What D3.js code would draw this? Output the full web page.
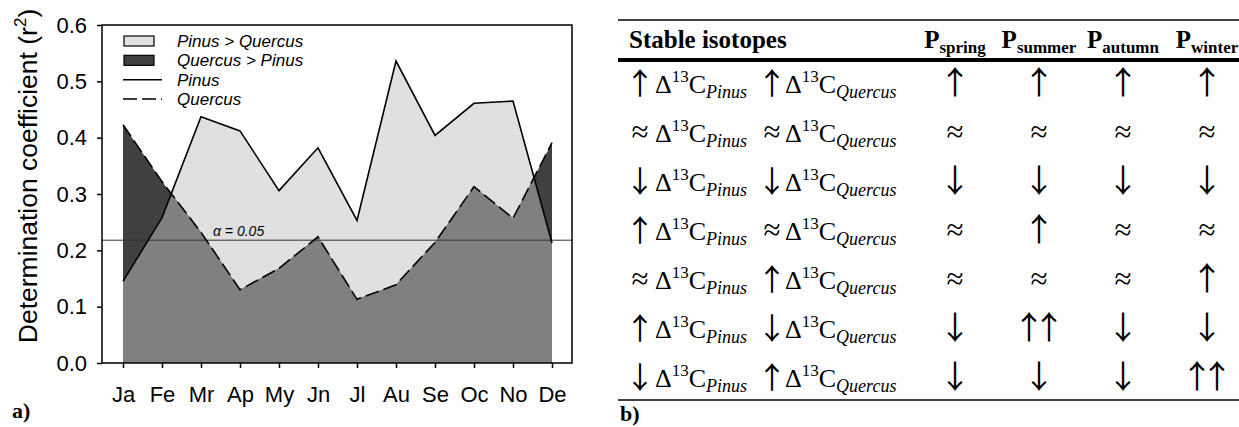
<!DOCTYPE html>
<html><head><meta charset="utf-8">
<script src="https://cdn.jsdelivr.net/npm/d3@7"></script>
<style>body{margin:0;background:#fff} svg{display:block}</style>
</head><body><svg id="c" width="1239" height="427"></svg>
<script>
// ---------- data ----------
const months = ["Ja","Fe","Mr","Ap","My","Jn","Jl","Au","Se","Oc","No","De"];
const pinus   = [0.145,0.258,0.437,0.412,0.306,0.382,0.253,0.536,0.404,0.461,0.465,0.213];
const quercus = [0.423,0.322,0.232,0.130,0.168,0.224,0.113,0.139,0.214,0.313,0.257,0.391];
const alphaLevel = 0.218;
const alphaLabel = "α = 0.05";
const yTicks = [0,0.1,0.2,0.3,0.4,0.5,0.6];
const legendLabels = ["Pinus > Quercus","Quercus > Pinus","Pinus","Quercus"];
const seasons = ["spring","summer","autumn","winter"];
const rowPinus   = ["↑","≈","↓","↑","≈","↑","↓"];
const rowQuercus = ["↑","≈","↓","≈","↑","↓","↑"];
const responses = [
  ["↑","↑","↑","↑"],
  ["≈","≈","≈","≈"],
  ["↓","↓","↓","↓"],
  ["≈","↑","≈","≈"],
  ["≈","≈","≈","↑"],
  ["↓","↑↑","↓","↓"],
  ["↓","↓","↓","↑↑"]
];

// ---------- styles ----------
const LIGHT="#e0e0e0", MID="#808080", DARK="#404040";
const SANS="'Liberation Sans', Arial, sans-serif";
const SERIF="'Liberation Serif', 'Times New Roman', serif";
const ARROW="'Noto Sans CJK JP', 'DejaVu Sans', sans-serif";

const svg = d3.select("#c");

// ---------- panel a ----------
const pL=102, pR=572, pT=25, pB=363;
const x = d3.scalePoint().domain(months).range([123,552]);
const y = d3.scaleLinear().domain([0,0.6]).range([pB,pT]);

const area = d3.area().x((d,i)=>x(months[i])).y0(y(0)).y1(d=>y(d));
const line = d3.line().x((d,i)=>x(months[i])).y(d=>y(d));

svg.append("defs").append("clipPath").attr("id","qclip")
  .append("path").attr("d", area(quercus));

const ga = svg.append("g");
ga.append("path").attr("d", area(pinus)).attr("fill", LIGHT);
ga.append("path").attr("d", area(quercus)).attr("fill", DARK);
ga.append("path").attr("d", area(pinus)).attr("fill", MID).attr("clip-path","url(#qclip)");

// alpha line
ga.append("line").attr("x1",pL).attr("x2",pR)
  .attr("y1",y(alphaLevel)).attr("y2",y(alphaLevel))
  .attr("stroke","#333").attr("stroke-width",1);
ga.append("text").attr("x",213).attr("y",y(alphaLevel)-4)
  .attr("font-family",SANS).attr("font-style","italic").attr("font-size",14)
  .text(alphaLabel);

ga.append("path").attr("d", line(pinus)).attr("fill","none")
  .attr("stroke","#000").attr("stroke-width",1.6);
ga.append("path").attr("d", line(quercus)).attr("fill","none")
  .attr("stroke","#000").attr("stroke-width",1.6).attr("stroke-dasharray","14,5");

// frame
ga.append("rect").attr("x",pL).attr("y",pT).attr("width",pR-pL).attr("height",pB-pT)
  .attr("fill","none").attr("stroke","#000").attr("stroke-width",1.5);

// axes
const yAxis = d3.axisLeft(y).tickValues(yTicks).tickFormat(d3.format(".1f")).tickSize(5).tickPadding(10);
const gy = svg.append("g").attr("transform",`translate(${pL},0)`).call(yAxis);
const xAxis = d3.axisBottom(x).tickSize(5).tickPadding(18);
const gx = svg.append("g").attr("transform",`translate(0,${pB})`).call(xAxis);
[gx,gy].forEach(g=>{
  g.select(".domain").remove();
  g.selectAll("line").attr("stroke","#000").attr("stroke-width",1.5);
  g.selectAll("text").attr("font-family",SANS).attr("font-size",22).attr("fill","#000");
});

// y title
const yt = svg.append("text").attr("transform",`translate(37,176) rotate(-90)`)
  .attr("text-anchor","middle").attr("font-family",SANS).attr("font-size",26.5);
yt.append("tspan").text("Determination coefficient (r");
yt.append("tspan").attr("font-size",17).attr("dy",-11).text("2");
yt.append("tspan").attr("dy",11).text(")");

// legend
const lg = svg.append("g");
const ly = d3.scalePoint().domain(legendLabels).range([41,99]);
lg.append("rect").attr("x",124).attr("y",ly(legendLabels[0])-5).attr("width",30).attr("height",10)
  .attr("fill",LIGHT).attr("stroke","#000").attr("stroke-width",1.2);
lg.append("rect").attr("x",124).attr("y",ly(legendLabels[1])-5).attr("width",30).attr("height",10)
  .attr("fill",DARK).attr("stroke","#000").attr("stroke-width",1.2);
lg.append("line").attr("x1",123).attr("x2",162).attr("y1",ly(legendLabels[2])).attr("y2",ly(legendLabels[2]))
  .attr("stroke","#000").attr("stroke-width",1.5);
lg.append("line").attr("x1",123).attr("x2",162).attr("y1",ly(legendLabels[3])).attr("y2",ly(legendLabels[3]))
  .attr("stroke","#000").attr("stroke-width",1.5).attr("stroke-dasharray","14,5");
lg.selectAll("text.l").data(legendLabels).join("text")
  .attr("x",177).attr("y",d=>ly(d)+6)
  .attr("font-family",SANS).attr("font-style","italic").attr("font-size",17)
  .text(d=>d);

svg.append("text").attr("x",12).attr("y",418).attr("font-family",SERIF)
  .attr("font-weight","bold").attr("font-size",22).text("a)");

// ---------- panel b (table) ----------
const tl=618, tr=1239;
svg.append("line").attr("x1",tl).attr("x2",tr).attr("y1",20).attr("y2",20).attr("stroke","#000").attr("stroke-width",1.5);
svg.append("line").attr("x1",tl).attr("x2",tr).attr("y1",60).attr("y2",60).attr("stroke","#000").attr("stroke-width",4);
svg.append("line").attr("x1",tl).attr("x2",tr).attr("y1",400).attr("y2",400).attr("stroke","#000").attr("stroke-width",1.5);

svg.append("text").attr("x",629).attr("y",48).attr("font-family",SERIF)
  .attr("font-weight","bold").attr("font-size",25).text("Stable isotopes");

const cx = d3.scalePoint().domain(seasons).range([955,1207]);
seasons.forEach(s=>{
  const t = svg.append("text").attr("x",cx(s)).attr("y",48).attr("text-anchor","middle")
    .attr("font-family",SERIF).attr("font-weight","bold").attr("font-size",25);
  t.append("tspan").text("P");
  t.append("tspan").attr("font-size",17).attr("dy",5).text(s);
});

function symbol(xc, yb, s, size){
  const isArrow = s !== "≈";
  svg.append("text").attr("x",xc).attr("y",isArrow ? yb+1 : yb).attr("text-anchor","middle")
    .attr("font-family", isArrow ? ARROW : SERIF)
    .attr("font-size", isArrow ? size : 31)
    .attr("fill","#000")
    .attr("letter-spacing", s.length>1 ? -12 : 0)
    .text(s);
}
const ry = d3.scalePoint().domain(d3.range(rowPinus.length)).range([93,387]);
function isoText(xPos, yPos, species){
  const t = svg.append("text").attr("x",xPos).attr("y",yPos)
    .attr("font-family",SERIF).attr("font-size",26);
  t.append("tspan").text("Δ");
  t.append("tspan").attr("font-size",17).attr("dy",-11).text("13");
  t.append("tspan").attr("dy",11).text("C");
  t.append("tspan").attr("font-size",18).attr("font-style","italic").attr("dy",5).text(species);
}
rowPinus.forEach((a,i)=>{
  symbol(640, ry(i), a, 30);
  isoText(655, ry(i), "Pinus");
  symbol(772, ry(i), rowQuercus[i], 30);
  isoText(785, ry(i), "Quercus");
  responses[i].forEach((r,j)=>{
    symbol(cx(seasons[j]) + (r.length>1 ? -6 : 0), ry(i), r, 32);
  });
});

svg.append("text").attr("x",620).attr("y",421).attr("font-family",SERIF)
  .attr("font-weight","bold").attr("font-size",22).text("b)");
</script></body></html>
